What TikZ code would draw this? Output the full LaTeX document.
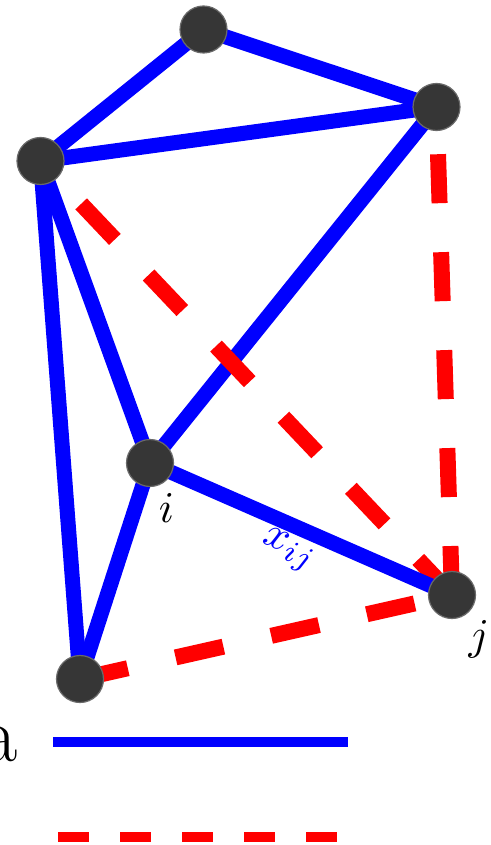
\documentclass[tikz,border=0pt]{standalone}
\usetikzlibrary{backgrounds}
\definecolor{nodegray}{HTML}{363636}
\definecolor{nodeedge}{HTML}{6A6A6A}
\begin{document}
\begin{tikzpicture}[x=1pt,y=-1pt,
  vertex/.style={circle, fill=nodegray, draw=nodeedge, line width=1.2pt, minimum size=47pt, inner sep=0pt},
  bedge/.style={draw=blue, line width=15pt},
  redge/.style={draw=red, line width=16pt, dash pattern=on 49pt off 49pt},
  lbl/.style={inner sep=0pt, scale=4.4},
  legblue/.style={draw=blue, line width=10pt},
  legred/.style={draw=red, line width=10pt, dash pattern=on 31pt off 31pt}]
\useasboundingbox (0,0) rectangle (490,845);
\node[vertex] (A) at (203.5,29.5) {};
\node[vertex] (B) at (436.5,107) {};
\node[vertex] (C) at (40.5,161) {};
\node[vertex] (I) at (150,463) {};
\node[vertex] (J) at (452,595) {};
\node[vertex] (D) at (80,679) {};
\begin{scope}[on background layer]
\draw[bedge] (A.center) -- (C.center);
\draw[bedge] (A.center) -- (B.center);
\draw[bedge] (C.center) -- (B.center);
\draw[bedge] (C.center) -- (I.center);
\draw[bedge] (C.center) -- (D.center);
\draw[bedge] (B.center) -- (I.center);
\draw[bedge] (I.center) -- (D.center);
\draw[redge] (J.center) -- (C.center);
\draw[redge] (J.center) -- (B.center);
\draw[redge] (D.center) -- (J.center);
\draw[bedge] (I.center) -- (J.center);
\end{scope}
\node[lbl, rotate=-23.9, text=blue] (xij) at (288,551) {$x_{ij}$};
\node[lbl] (li) at (166.5,508) {$i$};
\node[lbl] (lj) at (479,639) {$j$};
\node[anchor=base east, inner sep=0pt, font=\fontsize{79}{90}\selectfont] (a) at (17.5,761) {a};
\coordinate (b1) at (53,742);
\coordinate (b2) at (348,742);
\coordinate (r1) at (58,837);
\coordinate (r2) at (339,837);
\draw[legblue] (b1) -- (b2);
\draw[legred] (r1) -- (r2);
\end{tikzpicture}
\end{document}
